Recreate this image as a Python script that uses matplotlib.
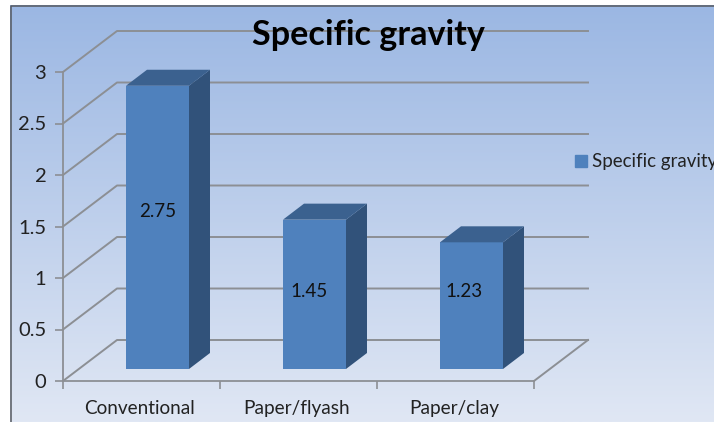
import numpy as np
import matplotlib
matplotlib.use('Agg')
import matplotlib.pyplot as plt
from matplotlib.patches import Rectangle

plt.rcParams['font.family'] = ['Lato', 'DejaVu Sans']

categories = ['Conventional', 'Paper/flyash', 'Paper/clay']
values = [2.75, 1.45, 1.23]
value_labels = ['2.75', '1.45', '1.23']
yticks = [0, 0.5, 1, 1.5, 2, 2.5, 3]
yticklabels = ['0', '0.5', '1', '1.5', '2', '2.5', '3']
series_name = 'Specific gravity'
title = 'Specific gravity'

W, H = 714, 422
fig = plt.figure(figsize=(W/100, H/100), dpi=100, facecolor='white')

# background panel with the blue gradient
bg = fig.add_axes([0, 0, 1, 1])
bg.set_xlim(0, W)
bg.set_ylim(H, 0)
bg.axis('off')
grad = np.linspace(0, 1, 256).reshape(-1, 1, 1)
top = np.array([0x9b, 0xb7, 0xe3]).reshape(1, 1, 3)/255
bot = np.array([0xe0, 0xe7, 0xf4]).reshape(1, 1, 3)/255
bg.imshow(top + (bot-top)*grad, extent=[10, W, H, 5], aspect='auto', zorder=0)
bg.set_xlim(0, W)
bg.set_ylim(H, 0)
bg.plot([10.5, 10.5, W], [H, 5.5, 5.5], color='#55595f', lw=1.1, zorder=1)

# main axes: front floor edge of the fake 3d box
ax = fig.add_axes([63/W, (H-381)/H, (534-63)/W, (381-72)/H])
ax.set_xlim(0, 3)
ax.set_ylim(0, 3)
ax.patch.set_alpha(0)
for side in ['top', 'right']:
    ax.spines[side].set_visible(False)
ax.spines['left'].set_color('#8c8f94')
ax.spines['bottom'].set_color('#8c8f94')
ax.spines['left'].set_linewidth(1.3)
ax.spines['bottom'].set_linewidth(1.3)

# depth of the box and of the bars, in data units
dx = 54/157
dy = 41/103
bar_dx = 21/157
bar_dy = 16/103
lift = 12/103
shift = 16/157
bar_w = 63/157

grid_col = '#8c8f94'
for t in yticks:
    ax.plot([0, dx, 3+dx], [t, t+dy, t+dy], color=grid_col, lw=1.4, clip_on=False, zorder=1)
ax.plot([3, 3+dx], [0, dy], color=grid_col, lw=1.4, clip_on=False, zorder=1)

xpos = np.arange(len(categories)) + 0.5 + shift
ax.bar(xpos, values, width=bar_w, bottom=lift, color='#4f81bd', zorder=3, clip_on=False)
for x, v in zip(xpos, values):
    l, r = x-bar_w/2, x+bar_w/2
    t = v+lift
    ax.fill([r, r+bar_dx, r+bar_dx, r], [lift, lift+bar_dy, t+bar_dy, t],
            color='#31527a', lw=0, zorder=3, clip_on=False)
    ax.fill([l, l+bar_dx, r+bar_dx, r], [t, t+bar_dy, t+bar_dy, t],
            color='#3b618f', lw=0, zorder=3, clip_on=False)

# data labels sit a bit off centre in the original
ax.text(xpos[0], 1.65, value_labels[0], ha='center', va='center', fontsize=13.5, color='#111111', zorder=4)
ax.text(xpos[1]-0.035, 0.865, value_labels[1], ha='center', va='center', fontsize=13.5, color='#111111', zorder=4)
ax.text(xpos[2]-0.045, 0.865, value_labels[2], ha='center', va='center', fontsize=13.5, color='#111111', zorder=4)

ax.set_yticks(yticks)
ax.set_yticklabels(yticklabels, fontsize=14.5, color='#222222')
ax.set_xticks([0, 1, 2, 3])
ax.set_xticklabels([])
ax.tick_params(axis='both', color='#8c8f94', width=1.2, length=6)
ax.tick_params(axis='y', pad=6)
for i, c in enumerate(categories):
    ax.text(i+0.49, -0.265, c, ha='center', va='center', fontsize=13.7, color='#222222')

fig.text(368/W, 1-35/H, title, ha='center', va='center', fontsize=24.6,
         fontweight='bold', color='black')

bg.add_patch(Rectangle((575, 155), 12, 12, color='#4f81bd', zorder=2))
bg.text(592, 161.5, series_name, ha='left', va='center', fontsize=13.5,
        color='#222222', clip_on=True)

fig.savefig('out.png', dpi=100)
